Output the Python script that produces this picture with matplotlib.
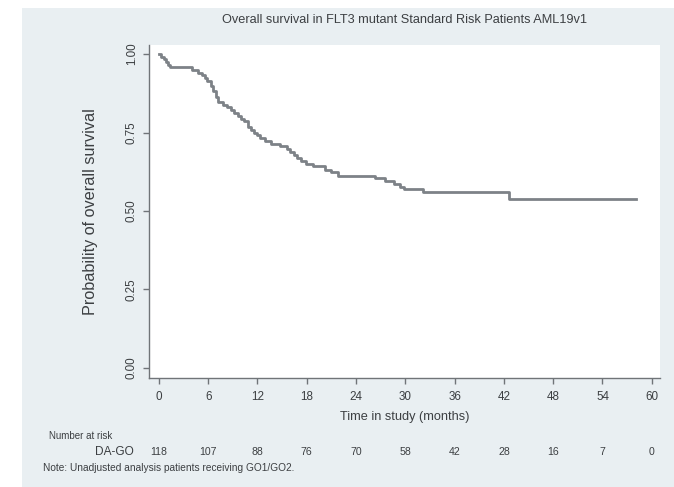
import numpy as np
import matplotlib
matplotlib.use("Agg")
import matplotlib.pyplot as plt
from matplotlib.patches import Rectangle

plt.rcParams['font.family'] = ['Liberation Sans', 'DejaVu Sans']

# Kaplan-Meier steps: event time (months) and survival after the event
event_times = [0.0, 0.3, 0.6, 0.9, 1.1, 1.3, 4.0, 4.8, 5.3, 5.6, 5.9, 6.3, 6.6, 6.9,
               7.2, 7.8, 8.3, 8.8, 9.2, 9.6, 10.0, 10.4, 10.8, 11.2, 11.6, 12.0,
               12.3, 12.9, 13.6, 14.8, 15.6, 16.0, 16.4, 16.8, 17.3, 17.9, 18.8,
               20.2, 21.0, 21.8, 26.3, 27.5, 28.6, 29.4, 29.8, 32.2, 42.6]
surv = [1.000, 0.991, 0.983, 0.975, 0.966, 0.958, 0.949, 0.941, 0.932, 0.924, 0.915,
        0.898, 0.881, 0.864, 0.847, 0.838, 0.830, 0.821, 0.812, 0.803, 0.794, 0.786,
        0.768, 0.759, 0.750, 0.741, 0.732, 0.724, 0.715, 0.706, 0.697, 0.688, 0.679,
        0.669, 0.660, 0.651, 0.642, 0.632, 0.623, 0.613, 0.604, 0.596, 0.587, 0.578,
        0.569, 0.560, 0.537]
last_followup = 58.1

risk_times = [0, 6, 12, 18, 24, 30, 36, 42, 48, 54, 60]
risk_counts = [118, 107, 88, 76, 70, 58, 42, 28, 16, 7, 0]
y_ticks = [0.0, 0.25, 0.5, 0.75, 1.0]

txt = '#3c3f42'
axcol = '#707478'

fig = plt.figure(figsize=(6.74, 4.87), dpi=100)
fig.patch.set_facecolor('white')
# light panel behind the graph
fig.patches.append(Rectangle((22 / 674, 0), 1, 1 - 8 / 487, transform=fig.transFigure,
                             facecolor='#e9eff2', edgecolor='none', zorder=-10))

ax = fig.add_axes([149 / 674, 1 - 378 / 487, (660 - 149) / 674, (378 - 45) / 487])
ax.set_facecolor('white')

t = event_times + [last_followup]
s = surv + [surv[-1]]
ax.step(t, s, where='post', color='#7d8287', lw=2.0)

ax.set_xlim(-1.2, 61.0)
ax.set_ylim(-0.032, 1.029)
ax.set_xticks(risk_times)
ax.set_yticks(y_ticks)
ax.set_yticklabels(['%.2f' % v for v in y_ticks], rotation=90, va='center')
for sp in ['top', 'right']:
    ax.spines[sp].set_visible(False)
for sp in ['left', 'bottom']:
    ax.spines[sp].set_color(axcol)
    ax.spines[sp].set_linewidth(1.0)
ax.tick_params(axis='both', colors=axcol, labelcolor=txt, labelsize=8.4,
               length=4, width=1.0, direction='out')
ax.tick_params(axis='x', pad=5)
ax.tick_params(axis='y', pad=4)

ax.set_title('Overall survival in FLT3 mutant Standard Risk Patients AML19v1',
             fontsize=9.2, color=txt, pad=16)
ax.set_xlabel('Time in study (months)', fontsize=9.2, color=txt, labelpad=6)
ax.set_ylabel('Probability of overall survival', fontsize=11.7, color=txt, labelpad=20)

# number at risk table
fig.text(49 / 674, 1 - 436 / 487, 'Number at risk', fontsize=7.0, color=txt,
         ha='left', va='center')
fig.text(134 / 674, 1 - 452 / 487, 'DA-GO', fontsize=8.6, color=txt,
         ha='right', va='center')
row_y = 1 - 452 / 487
for tm, n in zip(risk_times, risk_counts):
    xf = ax.transData.transform((tm, 0))[0] / fig.bbox.width
    fig.text(xf, row_y, str(n), fontsize=7.6, color=txt, ha='center', va='center')
fig.text(43 / 674, 1 - 468 / 487, 'Note: Unadjusted analysis patients receiving GO1/GO2.',
         fontsize=7.3, color=txt, ha='left', va='center')

fig.savefig('out.png', dpi=100)
